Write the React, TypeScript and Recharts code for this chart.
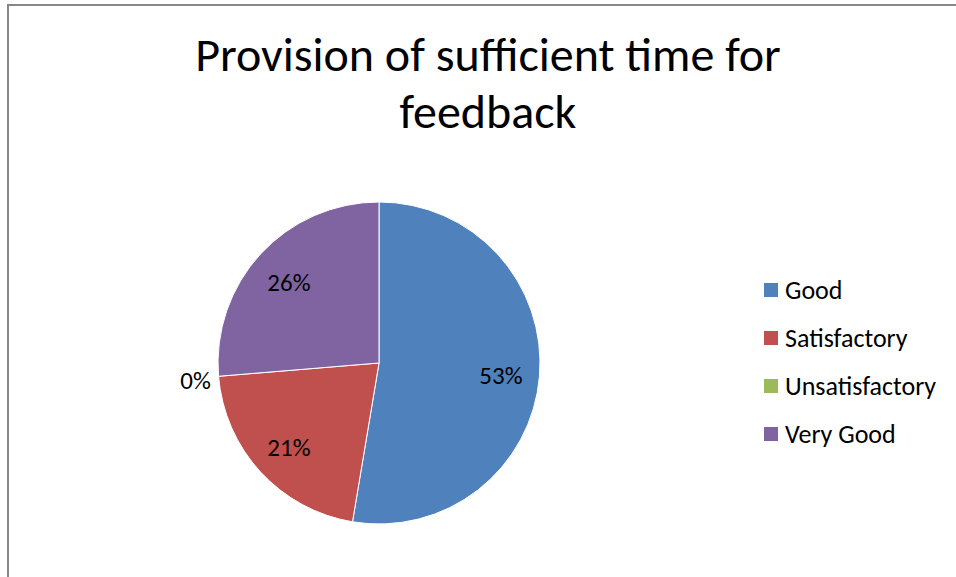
import React from "react";
import { PieChart, Pie, Cell, Legend } from "recharts";

const categories = ["Good", "Satisfactory", "Unsatisfactory", "Very Good"];
const counts = [10, 4, 0, 5];
const colors = ["#4F81BD", "#C0504D", "#9BBB59", "#8064A2"];
const titleLines = ["Provision of sufficient time for", "feedback"];

const data = categories.map((name, i) => ({ name, value: counts[i] }));
const total = counts.reduce((a, b) => a + b, 0);

const FONT = "Carlito, Calibri, Lato, sans-serif";
const RAD = Math.PI / 180;

const renderLabel = (props: any) => {
  const { cx, cy, midAngle, outerRadius, value } = props;
  const pct = Math.round((value / total) * 100) + "%";
  const r = value === 0 ? outerRadius + 23 : outerRadius * 0.76;
  const x = cx + r * Math.cos(-midAngle * RAD);
  const y = cy + r * Math.sin(-midAngle * RAD);
  return (
    <text
      x={x}
      y={y + 2}
      textAnchor="middle"
      dominantBaseline="central"
      fontSize={25}
      fontFamily={FONT}
      fill="#000"
    >
      {pct}
    </text>
  );
};

const LegendContent = (props: any) => {
  const { payload } = props;
  return (
    <div style={{ fontFamily: FONT, fontSize: 26, color: "#000", textAlign: "left" }}>
      {(payload || []).map((p: any, i: number) => (
        <div
          key={i}
          style={{ height: 48, display: "flex", alignItems: "center" }}
        >
          <span
            style={{
              display: "inline-block",
              width: 14,
              height: 14,
              background: p.color,
              marginRight: 7,
              flex: "none",
            }}
          />
          <span style={{ whiteSpace: "nowrap" }}>{p.value}</span>
        </div>
      ))}
    </div>
  );
};

export default function App() {
  return (
    <div
      style={{
        position: "absolute",
        left: 0,
        top: 0,
        width: 956,
        height: 577,
        overflow: "hidden",
        background: "#fff",
      }}
    >
      <div
        style={{
          position: "absolute",
          left: 7,
          top: 4,
          width: 980,
          height: 600,
          borderLeft: "2px solid #878787",
          borderTop: "2px solid #878787",
        }}
      />
      <div style={{ position: "absolute", left: 0, top: 0 }}>
        <PieChart width={956} height={577} margin={{ top: 0, right: 0, bottom: 0, left: 0 }}>
          <Pie
            data={data}
            dataKey="value"
            nameKey="name"
            cx={379}
            cy={363}
            outerRadius={161}
            startAngle={90}
            endAngle={-270}
            stroke="#fff"
            strokeWidth={1}
            label={renderLabel}
            labelLine={false}
            isAnimationActive={false}
          >
            {data.map((d, i) => (
              <Cell key={d.name} fill={colors[i]} />
            ))}
          </Pie>
          <Legend
            layout="vertical"
            align="center"
            verticalAlign="middle"
            content={<LegendContent />}
            wrapperStyle={{ left: 764, top: 266, width: 190 }}
          />
        </PieChart>
      </div>
      <svg
        width={956}
        height={577}
        style={{ position: "absolute", left: 0, top: 0, pointerEvents: "none" }}
      >
        <text x={488} y={71} textAnchor="middle" fontSize={48} fontFamily={FONT} fill="#000">
          {titleLines[0]}
        </text>
        <text x={488} y={128} textAnchor="middle" fontSize={48} fontFamily={FONT} fill="#000">
          {titleLines[1]}
        </text>
      </svg>
    </div>
  );
}
